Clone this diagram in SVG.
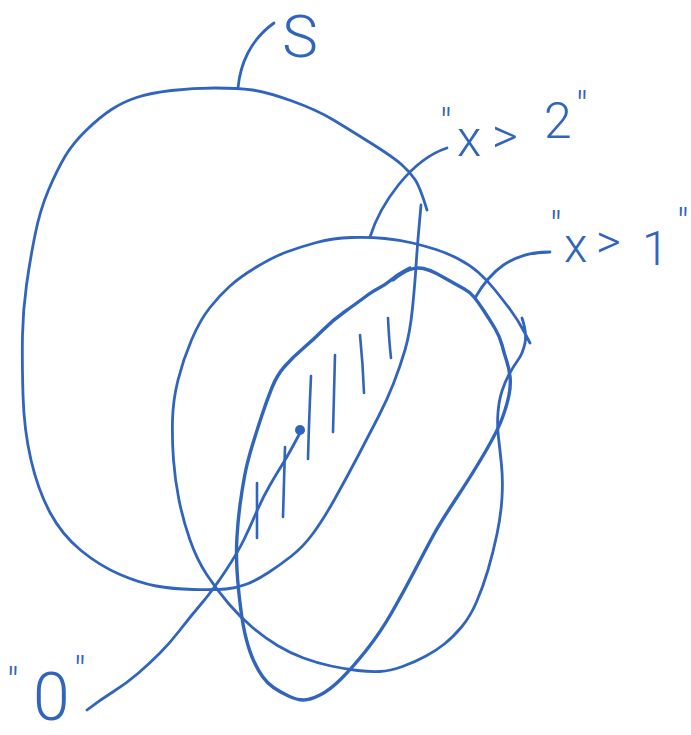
<svg xmlns="http://www.w3.org/2000/svg" width="691" height="735" viewBox="0 0 691 735">
<style>
.ink{fill:none;stroke:#3064BD;stroke-width:2.8;stroke-linecap:round;stroke-linejoin:round}
.thick{stroke-width:3.4}
.hatch{fill:none;stroke:#3064BD;stroke-width:2.6;stroke-linecap:round}
.lbl{fill:#3064BD;font-family:Roboto,"Liberation Sans",sans-serif;font-weight:300}
.q{font-size:40px}
</style>
<rect width="691" height="735" fill="#ffffff"/>
<g id="set-S">
<path class="ink" d="M427,210 Q420,187 415,179.5 Q410,172 401.5,164.5 Q393,157 371.5,143.5 Q350,130 333.5,120 Q317,110 292,101 Q267,92 252.5,90 Q238,88 215.5,88 Q193,88 171.5,90.5 Q150,93 136.5,97.5 Q123,102 111.5,109.5 Q100,117 86.5,130 Q73,143 65,156.5 Q57,170 48.5,190 Q40,210 35,235 Q30,260 26.5,285 Q23,310 22.5,335 Q22,360 23,395 Q24,430 31,460 Q38,490 50,512.5 Q62,535 81,550.5 Q100,566 120,574.5 Q140,583 156,586 Q172,589 193.5,589.5 Q215,590 226,589 Q237,588 247,584 Q257,580 268.5,572.5 Q280,565 291.5,556 Q303,547 313,533.5 Q323,520 335,498.5 Q347,477 358.5,455 Q370,433 378.5,416.5 Q387,400 393.5,383.5 Q400,367 405,350 Q410,333 412.5,308 Q415,283 416,266.5 Q417,250 419,227.5 L421,205"/>
<text class="lbl" x="300" y="57" font-size="60" text-anchor="middle">S</text>
</g>
<g id="set-x2">
<path class="ink" d="M522,318 Q527,333 525,343 Q523,353 518,360 Q513,367 509,374.5 Q505,382 502,391 Q499,400 498,412.5 Q497,425 498.5,437.5 Q500,450 501.5,465 Q503,480 502,497.5 Q501,515 497,534 Q493,553 488,570 Q483,587 476.5,602 Q470,617 461.5,627 Q453,637 445,643.5 Q437,650 426,656 Q415,662 402.5,666.5 Q390,671 380,671.5 Q370,672 357.5,670.5 Q345,669 331,666 Q317,663 303.5,658 Q290,653 277.5,645.5 Q265,638 252.5,627.5 Q240,617 228.5,603.5 Q217,590 207,575 Q197,560 190,540 Q183,520 179,500 Q175,480 173.5,460 Q172,440 172.5,420 Q173,400 178,380 Q183,360 191.5,340 Q200,320 210,307.5 Q220,295 230,286 Q240,277 256.5,267 Q273,257 286.5,252 Q300,247 316.5,242.5 Q333,238 351.5,237.5 Q370,237 385,238.5 Q400,240 412.5,243 Q425,246 436,249.5 Q447,253 458.5,259 Q470,265 478.5,272.5 Q487,280 495,290 Q503,300 510.5,310 Q518,320 524,331.5 L530,343"/>
<text class="lbl" font-size="50"><tspan class="q" x="440" y="138">"</tspan><tspan x="457" y="156">x </tspan><tspan x="492" y="153">&gt; </tspan><tspan x="544" y="138">2</tspan><tspan class="q" x="576" y="121">"</tspan></text>
</g>
<g id="set-x1">
<path class="ink thick" d="M393,280 Q403,272 410,269.5 Q417,267 423.5,268.5 Q430,270 436.5,273.5 Q443,277 450,281 Q457,285 463.5,288.5 Q470,292 474,297 Q478,302 484,311 Q490,320 495,328.5 Q500,337 502,345 Q504,353 506.5,360.5 Q509,368 510,376.5 Q511,385 509,395 Q507,405 502.5,417.5 Q498,430 485.5,451.5 Q473,473 456.5,498 Q440,523 433.5,535 Q427,547 415,570 Q403,593 391.5,613 Q380,633 366.5,650 Q353,667 341.5,678.5 Q330,690 320,695 Q310,700 303.5,700 Q297,700 288.5,696 Q280,692 273.5,687.5 Q267,683 262.5,676.5 Q258,670 254,661.5 Q250,653 246.5,640 Q243,627 240.5,607 Q238,587 237,570 Q236,553 237,536.5 Q238,520 240,505 Q242,490 244.5,476.5 Q247,463 252,446.5 Q257,430 262,415 Q267,400 272,387.5 Q277,375 285,366 Q293,357 303,348.5 Q313,340 323,330 Q333,320 345,311.5 Q357,303 365,297 Q373,291 379,288 Q385,285 391,280 Q397,275 403.5,271.5 L410,268"/>
<text class="lbl" font-size="48"><tspan class="q" x="550" y="241">"</tspan><tspan x="564" y="262">x </tspan><tspan x="596" y="258">&gt; </tspan><tspan x="642" y="265">1</tspan><tspan class="q" x="677" y="238">"</tspan></text>
</g>
<g id="hatching">
<path class="hatch" d="M257,483 L257,538"/>
<path class="hatch" d="M285,447 Q284,480 283,517"/>
<path class="hatch" d="M311,376 Q309,420 308,459"/>
<path class="hatch" d="M335,355 Q334,395 333,432"/>
<path class="hatch" d="M360,335 Q363,365 364,393"/>
<path class="hatch" d="M388,318 Q389,340 391,358"/>
</g>
<g id="point-0">
<circle cx="300" cy="430" r="5" fill="#3064BD"/>
<text class="lbl" font-size="66"><tspan class="q" x="7" y="697">"</tspan><tspan x="33" y="720">0</tspan><tspan class="q" x="74" y="686">"</tspan></text>
</g>
<g id="connectors">
<path class="ink" d="M238,88 C240,65 250,40 274,23"/>
<path class="ink" d="M370,237 C380,205 410,160 447,148"/>
<path class="ink" d="M475,298 C490,272 510,252 550,252"/>
<path class="ink" d="M87,710 Q100,700 113.5,691.5 Q127,683 138.5,673 Q150,663 160,653 Q170,643 180,630 Q190,617 201.5,603.5 Q213,590 225.5,571 Q238,552 244,539.5 Q250,527 256.5,512 Q263,497 270,485 Q277,473 282,465 Q287,457 293.5,445 L300,433"/>
</g>
</svg>
